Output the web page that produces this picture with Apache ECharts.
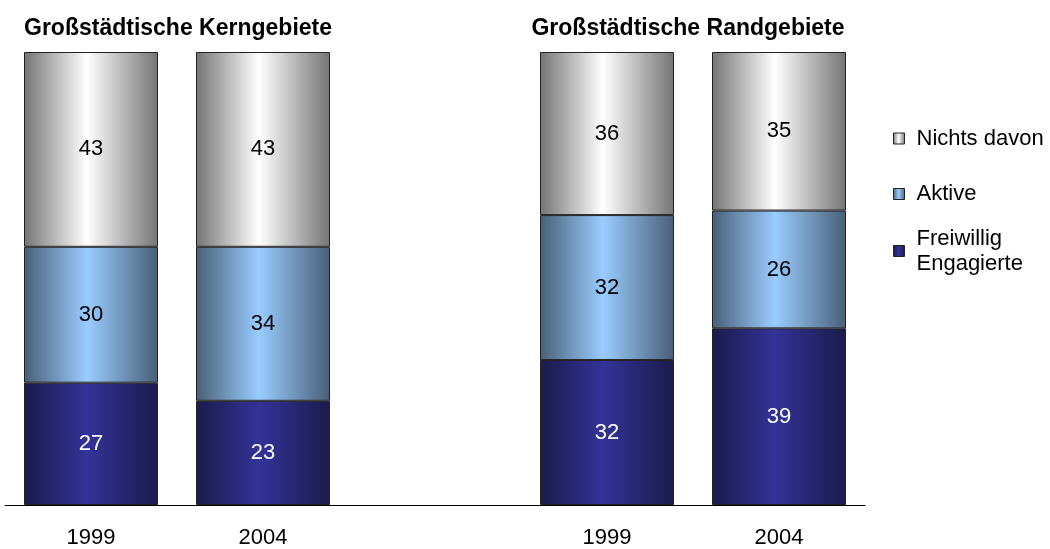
<!DOCTYPE html>
<html>
<head>
<meta charset="utf-8">
<script src="https://cdn.jsdelivr.net/npm/echarts@6/dist/echarts.min.js"></script>
<style>
html,body{margin:0;padding:0;background:#fff;}
#c{width:1050px;height:549px;}
</style>
</head>
<body>
<div id="c"></div>
<script>
const categories = ['1999', '2004', '', '1999', '2004'];
const groupTitles = ['Großstädtische Kerngebiete', 'Großstädtische Randgebiete'];
const seriesNames = ['Freiwillig Engagierte', 'Aktive', 'Nichts davon'];
const engagierte = [27, 23, null, 32, 39];
const aktive = [30, 34, null, 32, 26];
const nichts = [43, 43, null, 36, 35];

function grad(edge, center) {
  return new echarts.graphic.LinearGradient(0, 0, 1, 0, [
    { offset: 0, color: edge },
    { offset: 0.47, color: center },
    { offset: 1, color: edge }
  ]);
}
const fills = [grad('#1b1b4c', '#333399'), grad('#4a5f77', '#99ccff'), grad('#747474', '#ffffff')];
const labelColors = ['#ffffff', '#000000', '#000000'];
const values = [engagierte, aktive, nichts];

const font = '"Liberation Sans", Arial, sans-serif';

const series = seriesNames.map((name, i) => ({
  name: name,
  type: 'bar',
  stack: 'total',
  barWidth: 134,
  data: values[i],
  itemStyle: { color: fills[i], borderColor: '#222', borderWidth: 1 },
  label: {
    show: true, position: 'inside', color: labelColors[i],
    fontSize: 22, fontFamily: font
  },
  emphasis: { disabled: true }
}));

const legendTops = [127.5, 183, 213.5];
const legends = seriesNames.slice().reverse().map((name, i) => {
  const multi = name === 'Freiwillig Engagierte';
  return {
    data: [name],
    orient: 'vertical',
    left: 893,
    top: legendTops[i],
    padding: 0,
    icon: 'rect',
    itemWidth: 11,
    itemHeight: 11,
    selectedMode: false,
    formatter: function (n) { return multi ? 'Freiwillig\nEngagierte' : n; },
    textStyle: {
      fontSize: 22, fontFamily: font, color: '#000', lineHeight: multi ? 25 : 22,
      padding: multi ? [25, 0, 0, 7] : [0, 0, 0, 7]
    },
    itemStyle: { borderColor: '#222', borderWidth: 1 }
  };
});

const chart = echarts.init(document.getElementById('c'), null, { renderer: 'canvas' });
chart.setOption({
  animation: false,
  backgroundColor: '#fff',
  title: [
    { text: groupTitles[0], left: 173, top: 12, textAlign: 'center',
      textStyle: { fontSize: 23, fontWeight: 'bold', fontFamily: font, color: '#000' } },
    { text: groupTitles[1], left: 683, top: 12, textAlign: 'center',
      textStyle: { fontSize: 23, fontWeight: 'bold', fontFamily: font, color: '#000' } }
  ],
  legend: legends,
  grid: { left: 5, width: 860, top: 52, bottom: 44 },
  xAxis: {
    type: 'category',
    data: categories,
    axisLine: { lineStyle: { color: '#000', width: 1 } },
    axisTick: { show: false },
    axisLabel: { fontSize: 22, fontFamily: font, color: '#000', margin: 22 }
  },
  yAxis: { type: 'value', min: 0, max: 100, show: false },
  series: series
});
</script>
</body>
</html>
